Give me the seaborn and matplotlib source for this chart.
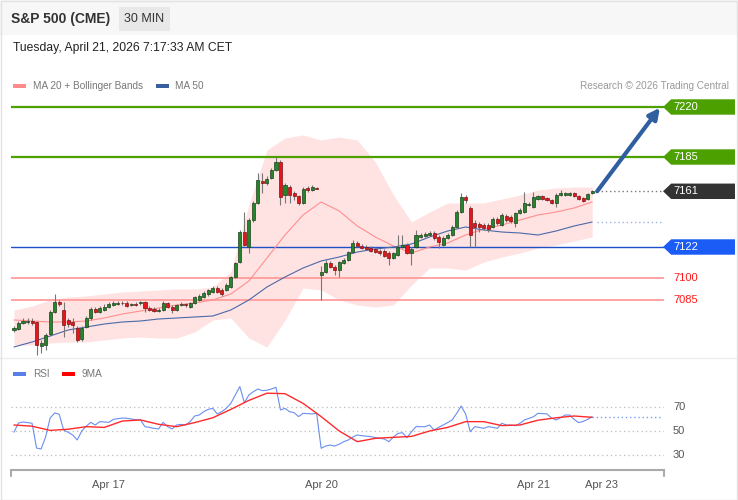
import matplotlib
matplotlib.use('Agg')
import matplotlib.pyplot as plt
import matplotlib.transforms as mtransforms
from matplotlib.patches import Polygon, Rectangle
import numpy as np
import pandas as pd
import seaborn as sns

# 30 min candles, S&P 500 futures
opens = [7063.9, 7064.6, 7068.8, 7069.5, 7070.2, 7069.5, 7052.7, 7053.4, 7061.1, 7076.5,
         7083.5, 7077.9, 7070.9, 7069.5, 7065.3, 7057.6, 7066.0, 7072.3, 7078.6, 7076.5,
         7077.9, 7080.0, 7081.4, 7082.1, 7082.8, 7082.8, 7081.4, 7082.1, 7082.8, 7083.5,
         7079.3, 7078.6, 7077.2, 7077.9, 7082.8, 7080.0, 7077.9, 7081.4, 7082.1, 7080.0,
         7082.8, 7084.9, 7087.0, 7089.1, 7090.5, 7093.3, 7091.9, 7091.9, 7094.0, 7101.0,
         7111.5, 7132.5, 7122.0, 7140.9, 7152.8, 7168.2, 7166.8, 7170.3, 7175.9, 7181.5,
         7158.4, 7164.0, 7159.8, 7157.7, 7152.8, 7163.3, 7161.9, 7163.3, 7102.4, 7104.5,
         7110.8, 7108.0, 7105.9, 7110.8, 7112.9, 7118.5, 7124.8, 7122.7, 7122.0, 7121.3,
         7120.6, 7119.2, 7119.2, 7117.8, 7114.3, 7116.4, 7122.0, 7123.4, 7117.8, 7122.0,
         7129.0, 7129.7, 7130.4, 7131.8, 7129.0, 7123.4, 7128.3, 7130.4, 7136.0, 7146.5,
         7157.0, 7149.3, 7138.8, 7138.1, 7137.4, 7137.4, 7136.0, 7141.6, 7137.4, 7143.7,
         7143.0, 7138.8, 7145.8, 7146.5, 7151.4, 7150.0, 7155.6, 7157.7, 7156.3, 7154.9,
         7152.8, 7158.4, 7158.4, 7158.4, 7159.8, 7157.7, 7156.3, 7155.6, 7159.8]
closes = [7065.3, 7068.8, 7070.2, 7070.2, 7068.8, 7053.4, 7054.8, 7060.4, 7076.5, 7083.5,
          7082.1, 7067.4, 7068.1, 7067.4, 7056.9, 7065.3, 7072.3, 7078.6, 7076.5, 7079.3,
          7080.0, 7082.1, 7082.8, 7082.8, 7082.5, 7080.7, 7082.1, 7081.4, 7083.5, 7079.3,
          7077.9, 7077.2, 7077.9, 7082.8, 7080.0, 7077.9, 7081.4, 7082.1, 7081.4, 7082.8,
          7087.0, 7087.7, 7089.8, 7091.9, 7093.3, 7090.5, 7089.1, 7095.4, 7101.0, 7110.8,
          7132.5, 7123.4, 7140.9, 7152.8, 7168.9, 7166.8, 7169.6, 7175.9, 7181.5, 7157.0,
          7165.4, 7158.4, 7157.7, 7152.8, 7162.6, 7161.9, 7164.0, 7162.9, 7104.5, 7110.8,
          7108.0, 7105.9, 7111.5, 7112.9, 7118.5, 7124.8, 7122.7, 7121.3, 7120.6, 7119.2,
          7118.5, 7117.8, 7115.7, 7114.3, 7117.8, 7122.0, 7123.4, 7117.8, 7120.6, 7130.4,
          7130.4, 7131.1, 7131.8, 7128.3, 7125.5, 7128.3, 7130.4, 7136.0, 7146.5, 7157.0,
          7154.9, 7130.4, 7136.0, 7136.0, 7135.3, 7134.6, 7141.6, 7138.8, 7144.4, 7140.9,
          7140.2, 7145.8, 7147.9, 7152.8, 7152.1, 7157.0, 7157.7, 7155.6, 7154.9, 7152.8,
          7158.4, 7159.8, 7159.8, 7159.8, 7157.7, 7155.6, 7154.2, 7159.1, 7161.2]
highs = [7066.7, 7070.2, 7072.3, 7072.3, 7072.3, 7070.2, 7056.9, 7061.8, 7077.9, 7089.1,
         7084.9, 7083.5, 7072.3, 7072.3, 7066.7, 7066.7, 7073.7, 7080.0, 7080.0, 7080.7,
         7082.1, 7083.5, 7084.2, 7084.2, 7084.2, 7084.2, 7082.8, 7083.5, 7084.2, 7084.2,
         7080.7, 7080.0, 7079.3, 7084.2, 7083.5, 7081.4, 7082.1, 7083.5, 7082.8, 7083.5,
         7087.7, 7089.1, 7091.2, 7092.6, 7094.7, 7094.7, 7093.3, 7096.8, 7101.7, 7111.5,
         7133.9, 7146.5, 7142.3, 7154.2, 7173.8, 7173.8, 7171.7, 7177.3, 7185.0, 7182.9,
         7166.8, 7165.4, 7161.2, 7158.4, 7164.0, 7164.7, 7165.4, 7164.0, 7108.7, 7112.9,
         7112.2, 7109.4, 7112.2, 7114.3, 7119.2, 7126.9, 7126.2, 7124.1, 7123.4, 7122.7,
         7122.0, 7120.6, 7120.6, 7119.2, 7118.5, 7130.4, 7130.4, 7124.8, 7122.0, 7133.9,
         7131.8, 7132.5, 7133.2, 7133.2, 7130.4, 7129.7, 7131.8, 7137.4, 7147.9, 7159.8,
         7158.4, 7150.7, 7140.9, 7139.5, 7138.8, 7138.8, 7143.0, 7143.0, 7145.8, 7145.1,
         7144.4, 7146.5, 7149.3, 7160.5, 7153.5, 7160.5, 7158.4, 7158.4, 7157.0, 7155.6,
         7159.8, 7161.9, 7160.5, 7160.5, 7160.5, 7158.4, 7157.0, 7159.8, 7161.9]
lows = [7062.5, 7063.9, 7068.1, 7068.1, 7067.4, 7046.4, 7047.8, 7049.9, 7059.7, 7075.8,
        7080.7, 7059.0, 7066.0, 7061.8, 7055.5, 7056.2, 7065.3, 7070.9, 7075.8, 7075.8,
        7077.2, 7079.3, 7080.7, 7081.4, 7081.4, 7080.0, 7080.7, 7080.7, 7081.4, 7076.5,
        7077.2, 7076.5, 7076.5, 7077.2, 7079.3, 7075.8, 7077.2, 7080.7, 7080.0, 7079.3,
        7082.1, 7084.2, 7086.3, 7087.7, 7089.8, 7089.8, 7087.7, 7091.2, 7093.3, 7100.3,
        7110.8, 7122.7, 7117.8, 7139.5, 7152.1, 7159.8, 7165.4, 7169.6, 7175.2, 7151.4,
        7152.8, 7152.8, 7154.9, 7151.4, 7152.1, 7160.5, 7161.2, 7162.6, 7084.9, 7103.8,
        7107.3, 7102.4, 7101.0, 7110.1, 7112.2, 7117.8, 7122.0, 7120.6, 7119.9, 7118.5,
        7117.8, 7116.4, 7115.0, 7109.4, 7113.6, 7115.7, 7121.3, 7117.1, 7109.4, 7121.3,
        7128.3, 7129.0, 7129.7, 7126.9, 7121.3, 7122.7, 7127.6, 7129.7, 7135.3, 7145.8,
        7152.8, 7122.0, 7122.0, 7132.5, 7133.9, 7132.5, 7135.3, 7137.4, 7136.7, 7139.5,
        7138.8, 7136.0, 7145.1, 7145.8, 7150.7, 7149.3, 7154.9, 7154.9, 7154.2, 7152.1,
        7150.0, 7157.7, 7157.7, 7157.7, 7157.0, 7154.9, 7153.5, 7154.9, 7159.1]

# indicators, read every 4th bar
ind_idx = list(range(0, 129, 4))
ma20 = [7070.9, 7070.2, 7069.5, 7069.5, 7070.2, 7072.3, 7075.1, 7077.2, 7079.3, 7081.4,
        7082.8, 7084.9, 7089.1, 7098.2, 7114.3, 7130.4, 7144.4, 7153.5, 7147.2, 7136.7,
        7129.0, 7122.7, 7117.8, 7122.0, 7124.8, 7130.4, 7134.6, 7137.4, 7140.9, 7144.4,
        7146.5, 7149.3, 7153.5]
bb_upper = [7077.9, 7080.7, 7084.9, 7087.0, 7087.7, 7089.1, 7090.5, 7091.2, 7091.9, 7092.6,
            7092.6, 7094.0, 7104.5, 7151.4, 7189.9, 7198.3, 7200.4, 7196.9, 7199.0, 7196.9,
            7181.5, 7158.4, 7139.5, 7146.5, 7152.8, 7152.8, 7152.8, 7155.6, 7158.4, 7161.9,
            7163.3, 7164.0, 7164.0]
bb_lower = [7053.4, 7053.4, 7054.8, 7055.5, 7055.5, 7056.9, 7058.3, 7059.0, 7058.3, 7058.3,
            7062.5, 7070.9, 7072.3, 7058.3, 7052.0, 7070.9, 7093.3, 7091.9, 7084.9, 7081.4,
            7080.0, 7081.4, 7095.4, 7107.3, 7107.3, 7105.9, 7111.5, 7115.0, 7117.8, 7121.3,
            7123.4, 7126.2, 7129.0]
ma50 = [7052.0, 7055.5, 7059.7, 7063.9, 7066.0, 7068.1, 7069.5, 7070.2, 7071.6, 7072.3,
        7073.0, 7073.7, 7077.9, 7084.9, 7094.0, 7101.0, 7107.3, 7112.2, 7115.0, 7118.5,
        7120.6, 7122.0, 7124.1, 7129.0, 7133.2, 7136.0, 7133.9, 7132.5, 7131.8, 7130.4,
        7133.2, 7136.7, 7139.5]

rsi = [49, 56.7, 57.5, 57, 56.5, 35.8, 35, 45, 60.8, 65,
       64, 50.8, 48.9, 46.7, 42.5, 50, 54, 57.2, 55, 57.8,
       57.5, 57.2, 59.7, 60.3, 60.8, 60.6, 60, 59.4, 59.2, 53.6,
       53, 52.2, 51.7, 57.2, 53.6, 51.7, 55, 55.5, 55, 57.8,
       62.5, 63.3, 66.1, 68, 68.9, 64.2, 66.1, 68.9, 73, 80,
       87, 73.6, 80, 82.8, 85, 83.6, 84, 85, 86.4, 67.5,
       68.9, 66.1, 65.3, 62, 64.7, 64.5, 64.2, 64.7, 35.6, 37.5,
       38.3, 37.5, 39, 41.1, 42.5, 45, 46.7, 46.1, 45.7, 45.3,
       44.5, 43.9, 43.3, 41.1, 45, 48, 48.6, 44.4, 49.4, 53.6,
       53.6, 53.6, 55, 50.8, 53, 55, 57, 59.2, 64.7, 70.8,
       64, 49.4, 53.6, 53, 52.2, 53.6, 53, 52.2, 56.4, 55,
       55, 54.4, 56.4, 59.2, 60.5, 61.9, 64.7, 64.5, 64.2, 60.8,
       59.2, 61, 63.3, 63.3, 59.7, 57, 58, 59.7, 61.9]
rsi_ma9 = [55, 54, 50.5, 51.5, 53.6, 53, 58.3, 59.2, 55.6, 53.6, 57, 61, 68, 75.5, 81.5,
           81.1, 73, 62, 50, 41.1, 43.9, 44.7, 45.5, 50, 53, 57.8, 57.8, 54.5, 55, 59,
           61, 62.5, 61.4]

resistances = [7220, 7185]
last_price = 7161
pivot = 7122
supports = [7100, 7085]
rsi_levels = [70, 50, 30]
date_labels = ['Apr 17', 'Apr 20', 'Apr 21', 'Apr 23']
date_pos = [21, 68, 115, 130]

sns.set_theme(style='white')
plt.rcParams['font.family'] = ['Liberation Sans', 'DejaVu Sans']

df = pd.DataFrame({'o': opens, 'h': highs, 'l': lows, 'c': closes})
df['i'] = np.arange(len(df))
ind = pd.DataFrame({'i': ind_idx, 'ma20': ma20, 'up': bb_upper, 'lo': bb_lower,
                    'ma50': ma50, 'ma9': rsi_ma9})
rs = pd.DataFrame({'i': df['i'], 'rsi': rsi})

fig = plt.figure(figsize=(7.38, 5.0), dpi=100)
W, H = 738, 500

def fx(px):
    return px / W

def fy(py):
    return 1 - py / H

# header + frame
fig.add_artist(Rectangle((0, fy(35)), 1, 35 / H, transform=fig.transFigure,
                         facecolor='#f7f7f7', edgecolor='none', zorder=0))
fig.add_artist(Rectangle((fx(119), fy(31)), 51 / W, 24 / H, transform=fig.transFigure,
                         facecolor='#e8e8e8', edgecolor='none', zorder=1))
fig.add_artist(Rectangle((0.001, 0.001), 0.998, 0.998, transform=fig.transFigure,
                         fill=False, edgecolor='#e2e2e2', lw=1, zorder=5))
fig.add_artist(plt.Line2D([0, 1], [fy(358), fy(358)], transform=fig.transFigure,
                          color='#efefef', lw=1))
fig.text(fx(11), fy(19), 'S&P 500 (CME)', fontsize=10, fontweight='bold',
         color='#333333', va='center')
fig.text(fx(144), fy(19), '30 MIN', fontsize=9, color='#333333', va='center', ha='center')
fig.text(fx(13), fy(48), 'Tuesday, April 21, 2026 7:17:33 AM CET', fontsize=8.7,
         color='#222222', va='center')

# legends
fig.add_artist(Rectangle((fx(13), fy(88)), 13 / W, 4 / H, transform=fig.transFigure,
                         facecolor='#ff8a8a', edgecolor='none'))
fig.text(fx(33), fy(86), 'MA 20 + Bollinger Bands', fontsize=7.2, color='#777777', va='center')
fig.add_artist(Rectangle((fx(156), fy(88)), 13 / W, 4 / H, transform=fig.transFigure,
                         facecolor='#3a5f9f', edgecolor='none'))
fig.text(fx(175), fy(86), 'MA 50', fontsize=7.2, color='#777777', va='center')
fig.text(fx(729), fy(86), 'Research \u00a9 2026 Trading Central', fontsize=7.2,
         color='#999999', va='center', ha='right')
fig.add_artist(Rectangle((fx(13), fy(376)), 13 / W, 4 / H, transform=fig.transFigure,
                         facecolor='#5b7fe8', edgecolor='none'))
fig.text(fx(33), fy(374), 'RSI', fontsize=7.2, color='#777777', va='center')
fig.add_artist(Rectangle((fx(62), fy(376)), 13 / W, 4 / H, transform=fig.transFigure,
                         facecolor='#ff0000', edgecolor='none'))
fig.text(fx(82), fy(374), '9MA', fontsize=7.2, color='#777777', va='center')

xmin, xmax = -0.66, 143.9

# price panel
ax = fig.add_axes([fx(11), fy(358), 653 / W, (358 - 95) / H])
ax.set_facecolor('none')
ax.fill_between(ind['i'], ind['lo'], ind['up'], color='#ffe2e2', lw=0, zorder=1)
for lv in resistances:
    ax.axhline(lv, color='#4ca000', lw=1.6, zorder=2)
ax.axhline(pivot, color='#2050c8', lw=1, zorder=2)
for lv in supports:
    ax.axhline(lv, color='#ff9c9c', lw=1.3, zorder=2)
sns.lineplot(data=ind, x='i', y='ma20', color='#ff8f8f', lw=0.8, ax=ax, zorder=3)
sns.lineplot(data=ind, x='i', y='ma50', color='#4a6aa8', lw=0.8, ax=ax, zorder=3)

up = df['c'] >= df['o']
ax.vlines(df['i'], df['l'], df['h'], color='#777777', lw=0.8, zorder=4)
body = (df['c'] - df['o']).abs().clip(lower=0.5)
ax.bar(df['i'], body, bottom=df[['o', 'c']].min(axis=1), width=0.68,
       color=np.where(up, '#23862a', '#e8141c'),
       edgecolor=np.where(up, '#1f3f1f', '#7a1515'), lw=0.5, zorder=5)

last_i = df['i'].iloc[-1] + 1.1
ax.plot([last_i, 143.5], [last_price, last_price], ls=(0, (1, 2)), color='#777777', lw=1, zorder=3)
ax.plot([last_i, 143.5], [ma50[-1], ma50[-1]], ls=(0, (1, 2)), color='#9fb4d8', lw=1, zorder=3)
ax.annotate('', xy=(143.0, resistances[0] - 0.5), xytext=(last_i, last_price),
            arrowprops=dict(arrowstyle='-|>', color='#2f5f9f', lw=3, mutation_scale=16,
                            shrinkA=0, shrinkB=0), zorder=6)

trans = mtransforms.blended_transform_factory(ax.transAxes, ax.transData)

def tag(y, text, fc):
    h = 5.4
    x0, x1, x2 = 0.9985, 1.011, 1.1087
    ax.add_patch(Polygon([(x0, y), (x1, y + h), (x2, y + h), (x2, y - h), (x1, y - h)],
                         closed=True, transform=trans, facecolor=fc, edgecolor='none',
                         clip_on=False, zorder=6))
    ax.text(1.0138, y, text, transform=trans, color='white', fontsize=8, va='center',
            ha='left', clip_on=False, zorder=7)

for lv in resistances:
    tag(lv, str(lv), '#4ca000')
tag(last_price, str(last_price), '#333333')
tag(pivot, str(pivot), '#1a5cf5')
for lv in supports:
    ax.text(1.0138, lv, str(lv), transform=trans, color='#ff1a1a', fontsize=8,
            va='center', ha='left', clip_on=False)

ax.set_xlim(xmin, xmax)
ax.set_ylim(7044.3, 7228.4)
ax.set_xticks([])
ax.set_yticks([])
ax.set_xlabel('')
ax.set_ylabel('')
for s in ax.spines.values():
    s.set_visible(False)

# RSI panel
ax2 = fig.add_axes([fx(11), fy(470), 653 / W, 87 / H])
ax2.set_facecolor('none')
for lv in rsi_levels:
    ax2.axhline(lv, color='#bbbbbb', ls=(0, (1, 2.5)), lw=0.9)
    ax2.text(1.0138, lv, str(lv), transform=mtransforms.blended_transform_factory(
        ax2.transAxes, ax2.transData), color='#555555', fontsize=8, va='center',
        clip_on=False)
sns.lineplot(data=rs, x='i', y='rsi', color='#6a8ef0', lw=0.8, ax=ax2)
sns.lineplot(data=ind, x='i', y='ma9', color='#ff2a2a', lw=1, ax=ax2)
ax2.plot([df['i'].iloc[-1], 143.5], [rsi[-1], rsi[-1]], ls=(0, (1, 2)), color='#7d9df0', lw=1)
ax2.set_xlim(xmin, xmax)
ax2.set_ylim(17.5, 90)
ax2.set_yticks([])
ax2.set_xticks(date_pos)
ax2.set_xticklabels(date_labels, fontsize=8, color='#555555')
ax2.tick_params(axis='x', length=0, pad=7)
ax2.set_xlabel('')
ax2.set_ylabel('')
for k in ['top', 'left', 'right']:
    ax2.spines[k].set_visible(False)
ax2.spines['bottom'].set_color('#aaaaaa')
ax2.spines['bottom'].set_linewidth(1.5)
for xe in [0, 1]:
    ax2.plot([xe, xe], [0, -0.07], transform=ax2.transAxes, color='#aaaaaa', lw=1.5,
             clip_on=False)

fig.savefig('out.png', dpi=100)
